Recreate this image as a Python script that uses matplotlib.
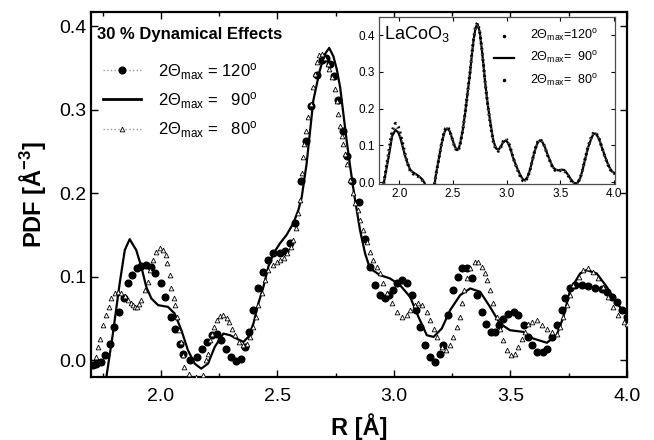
import matplotlib
matplotlib.use("Agg")
import matplotlib.pyplot as plt
from matplotlib.lines import Line2D
from matplotlib.ticker import MultipleLocator

plt.rcParams['font.family'] = ['Liberation Sans', 'DejaVu Sans']
plt.rcParams['mathtext.fontset'] = 'custom'
plt.rcParams['mathtext.rm'] = 'Liberation Sans'
plt.rcParams['mathtext.it'] = 'Liberation Sans:italic'
plt.rcParams['mathtext.bf'] = 'Liberation Sans:bold'

# ---- main panel: 2Theta_max = 90 deg (solid line)
r_90 = [1.766, 1.794, 1.823, 1.845, 1.866, 1.894, 1.916, 1.937, 1.959, 1.988,
        2.030, 2.059, 2.088, 2.116, 2.145, 2.173, 2.202, 2.231, 2.268, 2.297,
        2.325, 2.354, 2.375, 2.397, 2.418, 2.440, 2.461, 2.483, 2.511, 2.539,
        2.568, 2.590, 2.604, 2.625, 2.654, 2.680, 2.700, 2.722, 2.740, 2.755,
        2.769, 2.797, 2.812, 2.833, 2.855, 2.876, 2.897, 2.940, 2.983, 3.026,
        3.069, 3.105, 3.141, 3.170, 3.205, 3.241, 3.284, 3.327, 3.370, 3.412,
        3.455, 3.498, 3.555, 3.598, 3.656, 3.698, 3.727, 3.756, 3.799, 3.827,
        3.870, 3.913, 3.956, 4.000]
pdf_90 = [-0.020, 0.032, 0.092, 0.132, 0.145, 0.132, 0.112, 0.088, 0.074, 0.066,
          0.064, 0.056, 0.036, 0.012, -0.004, -0.010, -0.004, 0.016, 0.032, 0.030,
          0.026, 0.022, 0.028, 0.044, 0.068, 0.088, 0.112, 0.128, 0.140, 0.150,
          0.164, 0.180, 0.195, 0.235, 0.311, 0.345, 0.365, 0.374, 0.364, 0.348,
          0.327, 0.263, 0.232, 0.192, 0.155, 0.128, 0.110, 0.102, 0.098, 0.090,
          0.076, 0.052, 0.030, 0.028, 0.038, 0.060, 0.078, 0.086, 0.082, 0.064,
          0.044, 0.036, 0.034, 0.026, 0.021, 0.030, 0.052, 0.084, 0.104, 0.108,
          0.104, 0.088, 0.068, 0.055]

# ---- main panel: 2Theta_max = 120 deg (filled circles)
r_120 = [1.709, 1.723, 1.742, 1.759, 1.780, 1.799, 1.819, 1.842, 1.859, 1.877,
         1.899, 1.916, 1.937, 1.956, 1.976, 1.999, 2.019, 2.042, 2.062, 2.081,
         2.096, 2.125, 2.153, 2.175, 2.196, 2.218, 2.239, 2.258, 2.278, 2.300,
         2.322, 2.342, 2.362, 2.380, 2.397, 2.418, 2.437, 2.461, 2.483, 2.511,
         2.533, 2.554, 2.576, 2.600, 2.622, 2.645, 2.668, 2.690, 2.708, 2.725,
         2.743, 2.762, 2.780, 2.800, 2.822, 2.848, 2.876, 2.897, 2.919, 2.940,
         2.962, 2.980, 2.997, 3.012, 3.033, 3.055, 3.076, 3.094, 3.112, 3.133,
         3.155, 3.176, 3.198, 3.212, 3.234, 3.255, 3.276, 3.291, 3.312, 3.334,
         3.355, 3.377, 3.395, 3.416, 3.434, 3.452, 3.470, 3.491, 3.513, 3.534,
         3.556, 3.577, 3.591, 3.613, 3.638, 3.656, 3.677, 3.699, 3.720, 3.734,
         3.756, 3.777, 3.806, 3.834, 3.863, 3.891, 3.913, 3.934, 3.956, 3.978,
         4.000]
pdf_120 = [-0.006, -0.004, -0.002, 0.006, 0.020, 0.040, 0.058, 0.074, 0.092, 0.102,
           0.110, 0.113, 0.114, 0.112, 0.104, 0.092, 0.076, 0.052, 0.038, 0.020,
           0.007, 0.000, 0.004, 0.014, 0.022, 0.030, 0.031, 0.024, 0.014, 0.004,
           -0.001, 0.002, 0.016, 0.034, 0.060, 0.086, 0.106, 0.120, 0.128, 0.129,
           0.131, 0.140, 0.164, 0.215, 0.262, 0.305, 0.342, 0.359, 0.362, 0.355,
           0.340, 0.312, 0.275, 0.245, 0.215, 0.190, 0.145, 0.112, 0.090, 0.078,
           0.074, 0.078, 0.084, 0.092, 0.096, 0.092, 0.078, 0.060, 0.040, 0.018,
           0.004, -0.002, 0.008, 0.018, 0.054, 0.084, 0.100, 0.111, 0.110, 0.098,
           0.078, 0.058, 0.044, 0.034, 0.034, 0.042, 0.050, 0.056, 0.058, 0.054,
           0.042, 0.028, 0.018, 0.010, 0.010, 0.014, 0.028, 0.042, 0.060, 0.074,
           0.086, 0.090, 0.090, 0.089, 0.087, 0.085, 0.082, 0.076, 0.070, 0.060,
           0.052]

# ---- main panel: 2Theta_max = 80 deg (open triangles)
r_80 = [1.720, 1.730, 1.740, 1.752, 1.766, 1.777, 1.787, 1.801, 1.816, 1.830,
        1.845, 1.859, 1.870, 1.880, 1.890, 1.899, 1.908, 1.916, 1.930, 1.945,
        1.955, 1.966, 1.980, 1.995, 2.009, 2.020, 2.027, 2.038, 2.045, 2.055,
        2.062, 2.070, 2.077, 2.085, 2.093, 2.100, 2.120, 2.150, 2.180, 2.195,
        2.204, 2.211, 2.218, 2.229, 2.239, 2.254, 2.268, 2.283, 2.294, 2.304,
        2.318, 2.337, 2.354, 2.368, 2.382, 2.394, 2.408, 2.418, 2.433, 2.447,
        2.461, 2.480, 2.497, 2.511, 2.528, 2.543, 2.557, 2.568, 2.580, 2.590,
        2.597, 2.604, 2.610, 2.616, 2.623, 2.633, 2.643, 2.654, 2.661, 2.669,
        2.680, 2.692, 2.705, 2.715, 2.723, 2.733, 2.747, 2.754, 2.761, 2.768,
        2.776, 2.783, 2.790, 2.797, 2.811, 2.826, 2.833, 2.847, 2.855, 2.869,
        2.883, 2.897, 2.911, 2.926, 2.940, 2.955, 2.969, 2.990, 3.012, 3.033,
        3.055, 3.069, 3.091, 3.105, 3.119, 3.141, 3.155, 3.170, 3.183, 3.205,
        3.224, 3.241, 3.255, 3.269, 3.284, 3.291, 3.301, 3.312, 3.327, 3.348,
        3.362, 3.377, 3.391, 3.398, 3.412, 3.427, 3.441, 3.455, 3.470, 3.484,
        3.501, 3.520, 3.534, 3.548, 3.563, 3.577, 3.591, 3.613, 3.634, 3.656,
        3.677, 3.699, 3.713, 3.727, 3.742, 3.756, 3.770, 3.792, 3.813, 3.834,
        3.856, 3.877, 3.899, 3.920, 3.942, 3.963, 3.985, 4.000]
pdf_80 = [0.004, 0.016, 0.026, 0.042, 0.054, 0.064, 0.074, 0.080, 0.082, 0.081,
          0.077, 0.072, 0.068, 0.066, 0.064, 0.064, 0.067, 0.072, 0.084, 0.094,
          0.108, 0.120, 0.130, 0.135, 0.132, 0.126, 0.116, 0.102, 0.086, 0.075,
          0.066, 0.052, 0.036, 0.022, 0.006, -0.008, -0.016, -0.020, -0.018, 0.000,
          0.008, 0.024, 0.032, 0.040, 0.048, 0.053, 0.054, 0.051, 0.046, 0.038,
          0.030, 0.022, 0.018, 0.020, 0.028, 0.040, 0.052, 0.066, 0.080, 0.096,
          0.108, 0.114, 0.118, 0.120, 0.123, 0.128, 0.136, 0.144, 0.158, 0.176,
          0.192, 0.224, 0.243, 0.259, 0.275, 0.291, 0.307, 0.327, 0.343, 0.357,
          0.365, 0.367, 0.362, 0.355, 0.349, 0.339, 0.325, 0.311, 0.295, 0.280,
          0.268, 0.259, 0.247, 0.235, 0.216, 0.200, 0.188, 0.180, 0.168, 0.156,
          0.142, 0.130, 0.120, 0.112, 0.105, 0.092, 0.080, 0.068, 0.058, 0.052,
          0.054, 0.060, 0.066, 0.068, 0.066, 0.058, 0.048, 0.038, 0.028, 0.016,
          0.012, 0.018, 0.028, 0.040, 0.052, 0.068, 0.084, 0.098, 0.110, 0.118,
          0.118, 0.112, 0.104, 0.096, 0.084, 0.068, 0.052, 0.038, 0.024, 0.012,
          0.006, 0.008, 0.016, 0.026, 0.034, 0.044, 0.046, 0.048, 0.042, 0.038,
          0.034, 0.032, 0.040, 0.052, 0.066, 0.078, 0.090, 0.100, 0.108, 0.110,
          0.106, 0.098, 0.088, 0.076, 0.064, 0.054, 0.046, 0.044]

# ---- inset: LaCoO3
ins_r = [1.854, 1.878, 1.900, 1.932, 1.963, 1.990, 2.009, 2.035, 2.056, 2.080,
         2.102, 2.130, 2.164, 2.190, 2.211, 2.235, 2.251, 2.319, 2.340, 2.366,
         2.390, 2.412, 2.430, 2.450, 2.470, 2.490, 2.515, 2.537, 2.552, 2.567,
         2.590, 2.614, 2.637, 2.660, 2.677, 2.691, 2.710, 2.728, 2.748, 2.769,
         2.785, 2.800, 2.820, 2.840, 2.860, 2.877, 2.900, 2.924, 2.948, 2.970,
         2.995, 3.017, 3.040, 3.063, 3.095, 3.126, 3.150, 3.172, 3.195, 3.219,
         3.242, 3.265, 3.290, 3.312, 3.335, 3.358, 3.380, 3.405, 3.428, 3.451,
         3.480, 3.513, 3.537, 3.560, 3.585, 3.607, 3.637, 3.660, 3.684, 3.707,
         3.730, 3.760, 3.793, 3.813, 3.833, 3.860, 3.886, 3.910, 3.932, 3.955,
         3.979, 4.009]
ins_90 = [-0.004, 0.035, 0.069, 0.125, 0.142, 0.135, 0.120, 0.092, 0.069, 0.048,
          0.033, 0.026, 0.020, 0.014, 0.008, -0.002, -0.025, -0.025, 0.020, 0.060,
          0.100, 0.128, 0.142, 0.146, 0.138, 0.120, 0.098, 0.087, 0.090, 0.105,
          0.140, 0.190, 0.245, 0.300, 0.350, 0.385, 0.420, 0.430, 0.410, 0.360,
          0.315, 0.270, 0.220, 0.178, 0.140, 0.112, 0.092, 0.088, 0.098, 0.110,
          0.113, 0.105, 0.086, 0.064, 0.040, 0.020, 0.008, 0.005, 0.014, 0.035,
          0.062, 0.088, 0.108, 0.114, 0.108, 0.094, 0.076, 0.058, 0.042, 0.035,
          0.032, 0.034, 0.033, 0.025, 0.014, 0.004, -0.004, -0.002, 0.010, 0.032,
          0.060, 0.095, 0.122, 0.132, 0.132, 0.118, 0.096, 0.076, 0.058, 0.042,
          0.030, 0.024]
ins_120 = [-0.004, 0.040, 0.080, 0.140, 0.160, 0.150, 0.132, 0.100, 0.072, 0.048,
           0.030, 0.022, 0.018, 0.012, 0.006, -0.004, -0.025, -0.025, 0.020, 0.060,
           0.100, 0.130, 0.146, 0.150, 0.140, 0.120, 0.096, 0.084, 0.088, 0.104,
           0.140, 0.190, 0.247, 0.303, 0.353, 0.388, 0.424, 0.433, 0.412, 0.362,
           0.316, 0.270, 0.218, 0.174, 0.136, 0.108, 0.088, 0.084, 0.096, 0.112,
           0.118, 0.108, 0.088, 0.064, 0.038, 0.016, 0.004, 0.002, 0.012, 0.034,
           0.062, 0.090, 0.110, 0.116, 0.110, 0.094, 0.074, 0.056, 0.040, 0.032,
           0.030, 0.032, 0.031, 0.024, 0.012, 0.002, -0.006, -0.004, 0.010, 0.032,
           0.062, 0.098, 0.126, 0.136, 0.134, 0.120, 0.096, 0.074, 0.056, 0.040,
           0.028, 0.022]
ins_80 = [-0.004, 0.038, 0.076, 0.134, 0.152, 0.144, 0.128, 0.098, 0.070, 0.048,
          0.032, 0.024, 0.019, 0.013, 0.007, -0.003, -0.025, -0.025, 0.020, 0.060,
          0.100, 0.129, 0.144, 0.148, 0.139, 0.120, 0.097, 0.086, 0.089, 0.104,
          0.140, 0.190, 0.246, 0.301, 0.351, 0.386, 0.422, 0.431, 0.411, 0.361,
          0.315, 0.270, 0.219, 0.176, 0.138, 0.110, 0.090, 0.086, 0.097, 0.111,
          0.115, 0.106, 0.087, 0.064, 0.039, 0.018, 0.006, 0.004, 0.013, 0.035,
          0.062, 0.089, 0.109, 0.115, 0.109, 0.094, 0.075, 0.057, 0.041, 0.034,
          0.031, 0.033, 0.032, 0.025, 0.013, 0.003, -0.005, -0.003, 0.010, 0.032,
          0.061, 0.096, 0.124, 0.134, 0.133, 0.119, 0.096, 0.075, 0.057, 0.041,
          0.029, 0.023]

labels = [r'2$\Theta_{\rm max}$ = 120$^{\rm o}$',
          r'2$\Theta_{\rm max}$ =   90$^{\rm o}$',
          r'2$\Theta_{\rm max}$ =   80$^{\rm o}$']
ins_labels = [r'2$\Theta_{\rm max}$=120$^{\rm o}$',
              r'2$\Theta_{\rm max}$=  90$^{\rm o}$',
              r'2$\Theta_{\rm max}$=  80$^{\rm o}$']

W, H = 654, 440
fig = plt.figure(figsize=(W / 100, H / 100), dpi=100)
ax = fig.add_axes([91 / W, 1 - 377 / H, (627 - 91) / W, (377 - 12) / H])

ax.plot(r_90, pdf_90, color='black', lw=1.6, zorder=3)
ax.plot(r_120, pdf_120, ls='none', marker='o', ms=4.8, color='black', zorder=4)
ax.plot(r_80, pdf_80, ls='none', marker='^', ms=3.4, mfc='white', mec='black',
        mew=0.6, zorder=5)

ax.set_xlim(1.7, 4.0)
ax.set_ylim(-0.02, 0.417)
ax.xaxis.set_major_locator(MultipleLocator(0.5))
ax.xaxis.set_minor_locator(MultipleLocator(0.25))
ax.yaxis.set_major_locator(MultipleLocator(0.1))
ax.yaxis.set_major_formatter(matplotlib.ticker.FormatStrFormatter('%.1f'))
ax.xaxis.set_major_formatter(matplotlib.ticker.FormatStrFormatter('%.1f'))
ax.tick_params(which='both', direction='in', top=True, right=True, labelsize=14)
ax.tick_params(which='major', length=5, width=1)
ax.tick_params(which='minor', length=3, width=1)
ax.tick_params(axis='x', pad=8)
for s in ax.spines.values():
    s.set_linewidth(1.6)

ax.set_xlabel('R [Å]', fontsize=17, fontweight='bold', labelpad=6)
ax.set_ylabel(r'PDF [Å$^{\mathbf{-3}}$]', fontsize=17, fontweight='bold', labelpad=8)

fig.text(97 / W, 1 - 34 / H, '30 % Dynamical Effects', fontsize=12,
         fontweight='bold', va='center', ha='left')

handles = [Line2D([], [], color='0.6', ls=':', lw=1, marker='o', ms=4.8,
                  mfc='black', mec='black'),
           Line2D([], [], color='black', lw=2),
           Line2D([], [], color='0.6', ls=':', lw=1, marker='^', ms=3.4,
                  mfc='white', mec='black', mew=0.6)]
ax.legend(handles, labels, loc='upper left', frameon=False, fontsize=12,
          bbox_to_anchor=(103 / W, 1 - 61 / H), bbox_transform=fig.transFigure,
          borderpad=0, borderaxespad=0, handlelength=2.3, handletextpad=1.0,
          labelspacing=0.5, numpoints=1)

# ---- inset
ins = fig.add_axes([379 / W, 1 - 184 / H, (615 - 379) / W, (184 - 17) / H])
ins.plot(ins_r, ins_90, color='black', lw=1.6, zorder=3)
ins.plot(ins_r, ins_120, color='black', ls=(0, (0.6, 1.2)), lw=2.2, zorder=4)
ins.plot(ins_r, ins_80, color='0.35', ls=(0, (0.5, 1.6)), lw=1.6, zorder=4)
ins.set_xlim(1.81, 4.01)
ins.set_ylim(-0.005, 0.449)
ins.xaxis.set_major_locator(MultipleLocator(0.5))
ins.yaxis.set_major_locator(MultipleLocator(0.1))
ins.xaxis.set_major_formatter(matplotlib.ticker.FormatStrFormatter('%.1f'))
ins.yaxis.set_major_formatter(matplotlib.ticker.FormatStrFormatter('%.1f'))
ins.tick_params(direction='in', top=True, right=True, labelsize=8.5,
                length=3, width=0.8, pad=3)
for s in ins.spines.values():
    s.set_linewidth(0.9)
    s.set_color('0.3')
ins.text(0.02, 0.96, r'LaCoO$_3$', transform=ins.transAxes, fontsize=13,
         va='top', ha='left')

ins_handles = [Line2D([], [], ls='none', marker='.', ms=3, color='black'),
               Line2D([], [], color='black', lw=1.6),
               Line2D([], [], ls='none', marker='.', ms=3, color='black')]
ins.legend(ins_handles, ins_labels, loc='upper left', frameon=False, fontsize=9,
           bbox_to_anchor=(494 / W, 1 - 28 / H), bbox_transform=fig.transFigure,
           borderpad=0, borderaxespad=0, handlelength=1.6, handletextpad=1.3,
           labelspacing=0.5, numpoints=1)

fig.savefig('out.png', dpi=100)
